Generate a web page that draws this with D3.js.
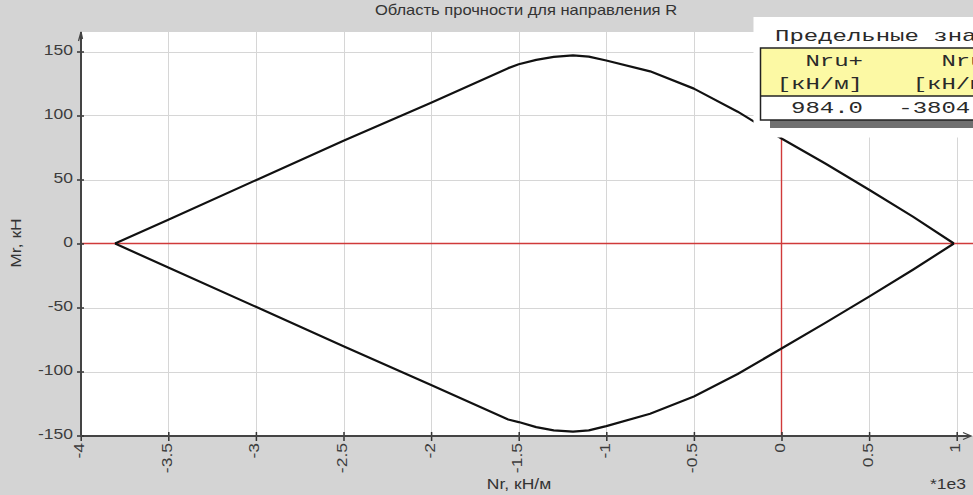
<!DOCTYPE html>
<html>
<head>
<meta charset="utf-8">
<script src="https://cdn.jsdelivr.net/npm/d3@7"></script>
<style>
  html, body { margin: 0; padding: 0; background: #d4d4d4; overflow: hidden; }
  svg { display: block; }
  .sans { font-family: "Liberation Sans", Arial, sans-serif; }
  .mono { font-family: "Liberation Mono", "Courier New", monospace; }
</style>
</head>
<body>
<svg id="chart" width="973" height="495"></svg>
<script>
// ---- texts and ticks ----
const chartTitle = "Область прочности для направления R";
const xAxisTitle = "Nr, кН/м";
const yAxisTitle = "Mr, кН";
const xScaleNote = "*1e3";
const xTickValues = [-4, -3.5, -3, -2.5, -2, -1.5, -1, -0.5, 0, 0.5, 1];
const yTickValues = [-150, -100, -50, 0, 50, 100, 150];

// ---- limit axial forces, kN/m ----
const nruPlus = 984.0;
const nruMinus = -3804.0;

// ---- boundary of the strength region (Nr in 1e3 kN/m, Mr in kN) ----
const nrPoints = [nruMinus / 1000, -3.5, -3, -2.5, -2, -1.56, -1.5, -1.4, -1.3, -1.19, -1.1, -1, -0.75, -0.5, -0.25, 0, 0.25, 0.5, 0.75, nruPlus / 1000];
const mrUpper  = [0, 18.5, 49.5, 80.3, 110, 137, 140, 143.5, 145.8, 147, 146, 143, 134.5, 121, 103, 82, 62.5, 42, 21, 0];
const mrLower  = [0, -18.8, -49.5, -80.2, -110.5, -137.5, -139.5, -143.5, -146, -147, -146, -142.7, -133, -119.5, -102, -82, -62, -41.5, -20.5, 0];

// ---- limit values table ----
const tableTitle = "Предельные значения";
const tableHeaders = ["Nru+", "Nru-"];
const tableUnits = ["[кН/м]", "[кН/м]"];
const tableValues = [nruPlus.toFixed(1), nruMinus.toFixed(1)];

// ---- layout ----
const W = 973, H = 495;
const plot = { left: 81, right: 973, top: 32, bottom: 436 };
const textStretch = 1.25;   // wide rendering of the labels

const svg = d3.select("#chart");
svg.append("rect").attr("width", W).attr("height", H).attr("fill", "#d4d4d4");

const x = d3.scaleLinear().domain([-4, 1]).range([80.7, 956.7]);
const y = d3.scaleLinear().domain([-150, 150]).range([435.5, 51.5]);

// plot background
svg.append("rect")
  .attr("x", plot.left).attr("y", plot.top)
  .attr("width", plot.right - plot.left).attr("height", plot.bottom - plot.top)
  .attr("fill", "#ffffff");

// grid
const grid = svg.append("g").attr("stroke", "#d6d6d6").attr("stroke-width", 1);
grid.selectAll(".gx").data(xTickValues.filter(d => d !== -4 && d !== 0)).join("line")
  .attr("x1", d => Math.round(x(d)) + 0.5).attr("x2", d => Math.round(x(d)) + 0.5)
  .attr("y1", plot.top).attr("y2", plot.bottom);
grid.selectAll(".gy").data(yTickValues.filter(d => d !== -150 && d !== 0)).join("line")
  .attr("y1", d => Math.round(y(d)) + 0.5).attr("y2", d => Math.round(y(d)) + 0.5)
  .attr("x1", plot.left).attr("x2", plot.right);

// zero lines
svg.append("line")
  .attr("x1", plot.left).attr("x2", plot.right)
  .attr("y1", y(0)).attr("y2", y(0))
  .attr("stroke", "#d03a3a").attr("stroke-width", 1.4);
svg.append("line")
  .attr("x1", x(0)).attr("x2", x(0))
  .attr("y1", plot.top).attr("y2", plot.bottom)
  .attr("stroke", "#d03a3a").attr("stroke-width", 1.4);

// strength region boundary
const line = d3.line().x(d => x(d[0])).y(d => y(d[1]));
const upper = nrPoints.map((n, i) => [n, mrUpper[i]]);
const lower = nrPoints.map((n, i) => [n, mrLower[i]]);
[upper, lower].forEach(pts => {
  svg.append("path")
    .attr("d", line(pts))
    .attr("fill", "none")
    .attr("stroke", "#111")
    .attr("stroke-width", 2.2)
    .attr("stroke-linejoin", "round");
});

// x axis
const xAxis = svg.append("g")
  .attr("transform", `translate(0,${plot.bottom})`)
  .call(d3.axisBottom(x).tickValues(xTickValues).tickFormat(d => String(d)).tickSizeOuter(0));
xAxis.select(".domain").remove();
xAxis.selectAll(".tick line").attr("y1", -4).attr("y2", 5).attr("stroke", "#333").attr("stroke-width", 1.5);
xAxis.selectAll(".tick text")
  .attr("class", "sans")
  .attr("font-size", 14)
  .attr("fill", "#3c3c3c")
  .attr("text-anchor", "end")
  .attr("dy", null)
  .attr("y", null)
  .attr("transform", `translate(3,7) rotate(-90) scale(${textStretch},1)`);
svg.append("line")
  .attr("x1", plot.left).attr("x2", 970)
  .attr("y1", plot.bottom).attr("y2", plot.bottom)
  .attr("stroke", "#444").attr("stroke-width", 2);
svg.append("path")
  .attr("d", `M963,${plot.bottom - 3.5}L971,${plot.bottom}L963,${plot.bottom + 3.5}`)
  .attr("fill", "none").attr("stroke", "#444").attr("stroke-width", 1.3);

// y axis
const yAxis = svg.append("g")
  .attr("transform", `translate(${plot.left},0)`)
  .call(d3.axisLeft(y).tickValues(yTickValues).tickFormat(d => String(d)).tickSizeOuter(0));
yAxis.select(".domain").remove();
yAxis.selectAll(".tick line").attr("x1", -4).attr("x2", 3).attr("stroke", "#333").attr("stroke-width", 1.5);
yAxis.selectAll(".tick text")
  .attr("class", "sans")
  .attr("font-size", 14)
  .attr("fill", "#3c3c3c")
  .attr("text-anchor", "end")
  .attr("dy", null)
  .attr("x", null)
  .attr("transform", `translate(-8,2.5) scale(${textStretch},1)`);
svg.append("line")
  .attr("x1", plot.left).attr("x2", plot.left)
  .attr("y1", plot.top).attr("y2", plot.bottom + 1)
  .attr("stroke", "#444").attr("stroke-width", 2);
svg.append("path")
  .attr("d", `M${plot.left - 2.5},${plot.top + 9}L${plot.left},${plot.top}L${plot.left + 1.5},${plot.top + 7}`)
  .attr("fill", "none").attr("stroke", "#444").attr("stroke-width", 1.3);

// titles
function stretchedText(tx, ty, str, opts = {}) {
  const g = svg.append("g").attr("transform", `translate(${tx},${ty}) rotate(${opts.rotate || 0}) scale(${opts.sx || textStretch},1)`);
  return g.append("text")
    .attr("class", opts.cls || "sans")
    .attr("font-size", opts.size || 14)
    .attr("fill", opts.fill || "#333")
    .attr("text-anchor", opts.anchor || "middle")
    .text(str);
}
stretchedText(526, 15, chartTitle, { sx: 1.18 });
stretchedText(519, 489, xAxisTitle);
stretchedText(21, 243, yAxisTitle, { rotate: -90 });
stretchedText(930, 489, xScaleNote, { anchor: "start" });

// limit values table
const tbl = svg.append("g");
tbl.append("rect").attr("x", 753.5).attr("y", 17).attr("width", 220).attr("height", 120.5).attr("fill", "#fff");
tbl.append("rect").attr("x", 770).attr("y", 120).attr("width", 210).attr("height", 8).attr("fill", "#707070");
tbl.append("rect").attr("x", 760.5).attr("y", 48).attr("width", 240).attr("height", 48).attr("fill", "#fcf9a4");
tbl.append("rect").attr("x", 760.5).attr("y", 96).attr("width", 240).attr("height", 24).attr("fill", "#fff");
tbl.append("rect").attr("x", 760.5).attr("y", 48).attr("width", 240).attr("height", 72)
  .attr("fill", "none").attr("stroke", "#222").attr("stroke-width", 1.5);
tbl.append("line").attr("x1", 760.5).attr("x2", 1000).attr("y1", 96).attr("y2", 96)
  .attr("stroke", "#222").attr("stroke-width", 1.5);

const monoStretch = 1.5;
stretchedText(775, 41, tableTitle, { cls: "mono", size: 16, sx: monoStretch, anchor: "start", fill: "#2a2a2a" });
const colEnds = [863, 999];
const rowBaselines = [66, 89, 113];
[tableHeaders, tableUnits, tableValues].forEach((row, r) => {
  row.forEach((s, c) => {
    stretchedText(colEnds[c], rowBaselines[r], s, { cls: "mono", size: 16, sx: monoStretch, anchor: "end", fill: "#2a2a2a" });
  });
});
</script>
</body>
</html>
